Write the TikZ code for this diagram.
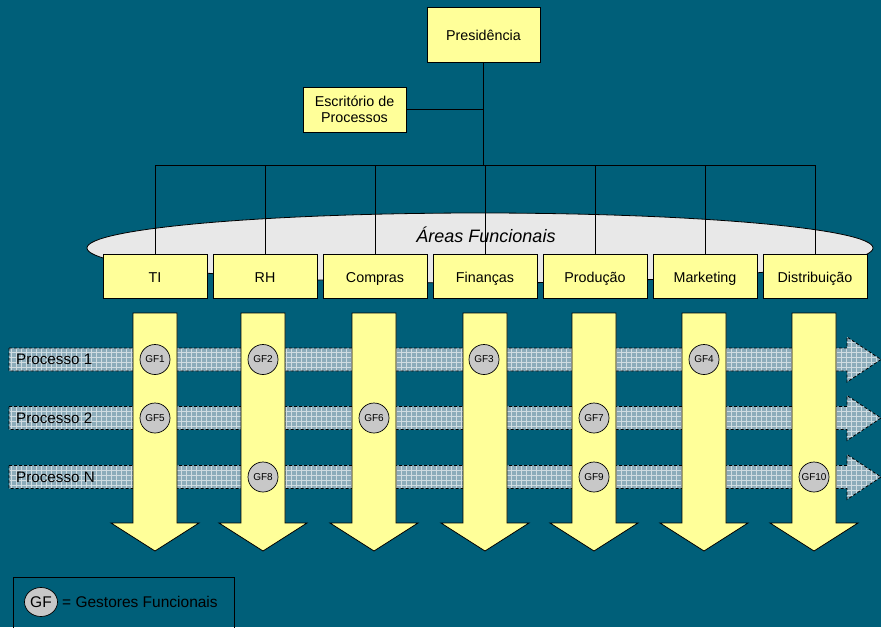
\documentclass[tikz,border=0pt]{standalone}
\usepackage{fontspec}
\setmainfont{Liberation Sans}
\usetikzlibrary{shapes.geometric}
\definecolor{bgteal}{RGB}{0,95,121}
\definecolor{boxyellow}{RGB}{255,255,153}
\definecolor{ellgray}{RGB}{232,232,232}
\definecolor{gfgray}{RGB}{200,200,200}
\definecolor{bandfill}{RGB}{140,172,186}
\definecolor{bandgrid}{RGB}{208,220,225}
\newcommand\procband[1]{(9,{#1-11.5}) -- (847,{#1-11.5}) -- (847,{#1-22.5}) -- (881,#1) -- (847,{#1+22.5}) -- (847,{#1+11.5}) -- (9,{#1+11.5}) -- cycle}
\newcommand\downarr[1]{({#1-22},313) -- ({#1+22},313) -- ({#1+22},523) -- ({#1+44},523) -- (#1,551) -- ({#1-44},523) -- ({#1-22},523) -- cycle}
\begin{document}
\begin{tikzpicture}[x=1pt,y=-1pt,
  box/.style={draw=black, line width=0.8pt, fill=boxyellow, minimum width=104pt, minimum height=44pt, inner sep=0pt, text height=12pt, text depth=0pt, font=\fontsize{14.3}{16}\selectfont},
  conn/.style={draw=black, line width=0.8pt},
  gf/.style={circle, draw=black, line width=0.7pt, fill=gfgray, minimum size=30pt, inner sep=0pt, font=\fontsize{10}{11}\selectfont},
  proclabel/.style={anchor=west, inner sep=0pt, font=\fontsize{15.2}{17}\selectfont},
  dashborder/.style={draw=black, line width=0.8pt, dash pattern=on 3pt off 2pt},
  yarrow/.style={draw=black, line width=0.8pt, fill=boxyellow}]
\useasboundingbox (0,0) rectangle (881,627);
\fill[bgteal] (0,0) rectangle (881,627);

% process bands
\foreach \yy in {359.5,418,477}{
  \begin{scope}
    \clip \procband{\yy};
    \fill[bandfill] (0,{\yy-25}) rectangle (881,{\yy+25});
    \foreach \xx in {11,16,...,881} \draw[bandgrid, line width=0.7pt] (\xx,{\yy-25}) -- (\xx,{\yy+25});
    \foreach \dy in {-22,-17,...,23} \draw[bandgrid, line width=0.7pt] (0,{\yy+\dy}) -- (881,{\yy+\dy});
  \end{scope}
  \draw[dashborder] \procband{\yy};
}
\node[proclabel] (p1) at (16,359.5) {Processo 1};
\node[proclabel] (p2) at (16,418) {Processo 2};
\node[proclabel] (pn) at (16,477) {Processo N};

% yellow down arrows
\foreach \cx in {155,263,374,485,594,704,814}
  \draw[yarrow] \downarr{\cx};

% GF circles
\node[gf] (gf1) at (155,359.5) {GF1};
\node[gf] (gf2) at (263,359.5) {GF2};
\node[gf] (gf3) at (484,359.5) {GF3};
\node[gf] (gf4) at (704,359.5) {GF4};
\node[gf] (gf5) at (155,418) {GF5};
\node[gf] (gf6) at (374,418) {GF6};
\node[gf] (gf7) at (594,418) {GF7};
\node[gf] (gf8) at (263,477) {GF8};
\node[gf] (gf9) at (594,477) {GF9};
\node[gf] (gf10) at (814,477) {GF10};

% ellipse
\filldraw[fill=ellgray, draw=black, line width=0.8pt] (480,248) ellipse [x radius=393pt, y radius=35pt];
\node[font=\fontsize{18}{20}\selectfont\itshape] (areas) at (486,235) {Áreas Funcionais};

% top boxes
\node[box, minimum width=113pt, minimum height=55pt] (pres) at (483.5,34.5) {Presidência};
\node[box, minimum width=103pt, minimum height=45pt, align=center, text height=, text depth=, font=\fontsize{14.3}{16.5}\selectfont] (esc) at (354.5,109.5) {Escritório de\\Processos};

% functional boxes
\node[box] (ti) at (155,276.5) {TI};
\node[box] (rh) at (265,276.5) {RH};
\node[box] (comp) at (375,276.5) {Compras};
\node[box] (fin) at (485,276.5) {Finanças};
\node[box] (prod) at (595,276.5) {Produção};
\node[box] (mkt) at (705,276.5) {Marketing};
\node[box] (dist) at (815,276.5) {Distribuição};

% connectors
\coordinate (j) at (483.5,165);
\draw[conn] (pres.south) -- (j);
\draw[conn] (esc.east) -- (esc.east -| pres.south);
\draw[conn] (ti.north |- j) -- (dist.north |- j);
\foreach \b in {ti,rh,comp,fin,prod,mkt,dist}
  \draw[conn] (\b.north |- j) -- (\b.north);

% legend
\draw[black, line width=1pt] (13,577) rectangle (234,640);
\node[ellipse, draw=black, line width=0.7pt, fill=gfgray, minimum width=33pt, minimum height=29pt, inner sep=0pt, font=\fontsize{15.5}{17}\selectfont] (gfl) at (41,602) {GF};
\node[anchor=west, inner sep=0pt, font=\fontsize{15.5}{17}\selectfont] (legtxt) at (62,602) {= Gestores Funcionais};
\end{tikzpicture}
\end{document}
